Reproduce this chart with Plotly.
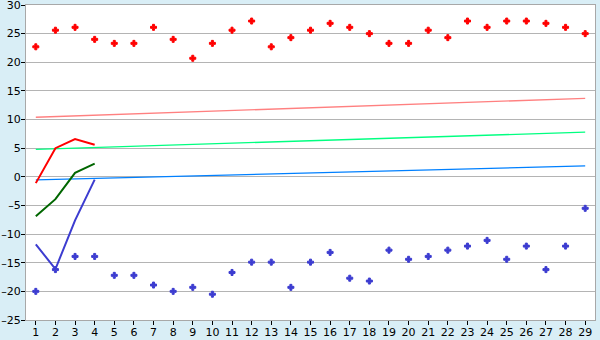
import plotly.graph_objects as go

days = list(range(1, 30))
max_temps = [22.7, 25.6, 26.1, 24.0, 23.3, 23.3, 26.1, 24.0, 20.7, 23.3,
             25.6, 27.2, 22.7, 24.3, 25.6, 26.8, 26.1, 25.0, 23.3, 23.3,
             25.6, 24.3, 27.2, 26.1, 27.2, 27.2, 26.8, 26.1, 25.0]
min_temps = [-20.0, -16.2, -13.9, -13.9, -17.2, -17.2, -18.9, -20.0, -19.3, -20.5,
             -16.7, -14.9, -14.9, -19.3, -14.9, -13.2, -17.7, -18.2, -12.8, -14.4,
             -13.9, -12.8, -12.1, -11.1, -14.4, -12.1, -16.2, -12.1, -5.5]

obs_days = [1, 2, 3, 4]
obs_max = [-1.1, 5.0, 6.6, 5.6]
obs_mean = [-6.9, -3.9, 0.7, 2.3]
obs_min = [-11.8, -16.1, -7.6, -0.5]

norm_days = [1, 29]
norm_max = [10.4, 13.7]
norm_mean = [4.8, 7.8]
norm_min = [-0.55, 1.9]

y_ticks = [-25, -20, -15, -10, -5, 0, 5, 10, 15, 20, 25, 30]
y_tick_labels = [("\u2013" + str(-v)) if v < 0 else str(v) for v in y_ticks]

fig = go.Figure()
fig.add_trace(go.Scatter(x=norm_days, y=norm_max, mode="lines",
                         line=dict(color="#ff8080", width=1.3)))
fig.add_trace(go.Scatter(x=norm_days, y=norm_mean, mode="lines",
                         line=dict(color="#00ff80", width=1.3)))
fig.add_trace(go.Scatter(x=norm_days, y=norm_min, mode="lines",
                         line=dict(color="#0080ff", width=1.3)))
fig.add_trace(go.Scatter(x=days, y=max_temps, mode="markers",
                         marker=dict(symbol="cross", size=5, color="#ff0000",
                                     line=dict(width=1, color="#ff0000"))))
fig.add_trace(go.Scatter(x=days, y=min_temps, mode="markers",
                         marker=dict(symbol="cross", size=5, color="#3c3cd0",
                                     line=dict(width=1, color="#3c3cd0"))))
fig.add_trace(go.Scatter(x=obs_days, y=obs_max, mode="lines",
                         line=dict(color="#ff0000", width=2)))
fig.add_trace(go.Scatter(x=obs_days, y=obs_mean, mode="lines",
                         line=dict(color="#006600", width=2)))
fig.add_trace(go.Scatter(x=obs_days, y=obs_min, mode="lines",
                         line=dict(color="#3c3cd0", width=2)))

fig.update_layout(
    width=600, height=340,
    margin=dict(l=26, r=5, t=5, b=20),
    paper_bgcolor="#d9eef6",
    plot_bgcolor="#ffffff",
    showlegend=False,
    font=dict(family="DejaVu Sans", size=11, color="#000000"),
)
fig.update_xaxes(range=[0.5, 29.5], tickvals=days, showgrid=False,
                 showline=True, linecolor="#a8a8a8", linewidth=1, mirror=True,
                 ticks="outside", ticklen=4, tickcolor="#000000", zeroline=False,
                 tickfont=dict(size=11), ticklabeloverflow="allow",
                 ticklabelstandoff=-2, automargin=False)
fig.update_yaxes(range=[-25, 30], tickvals=y_ticks, ticktext=y_tick_labels,
                 showgrid=True, gridcolor="#b4b4b4", gridwidth=1,
                 showline=True, linecolor="#a8a8a8", linewidth=1, mirror=True,
                 ticks="outside", ticklen=4, tickcolor="#000000", zeroline=False,
                 tickfont=dict(size=11), ticklabeloverflow="allow",
                 ticklabelstandoff=-2, automargin=False)

fig.write_html("out.html")
